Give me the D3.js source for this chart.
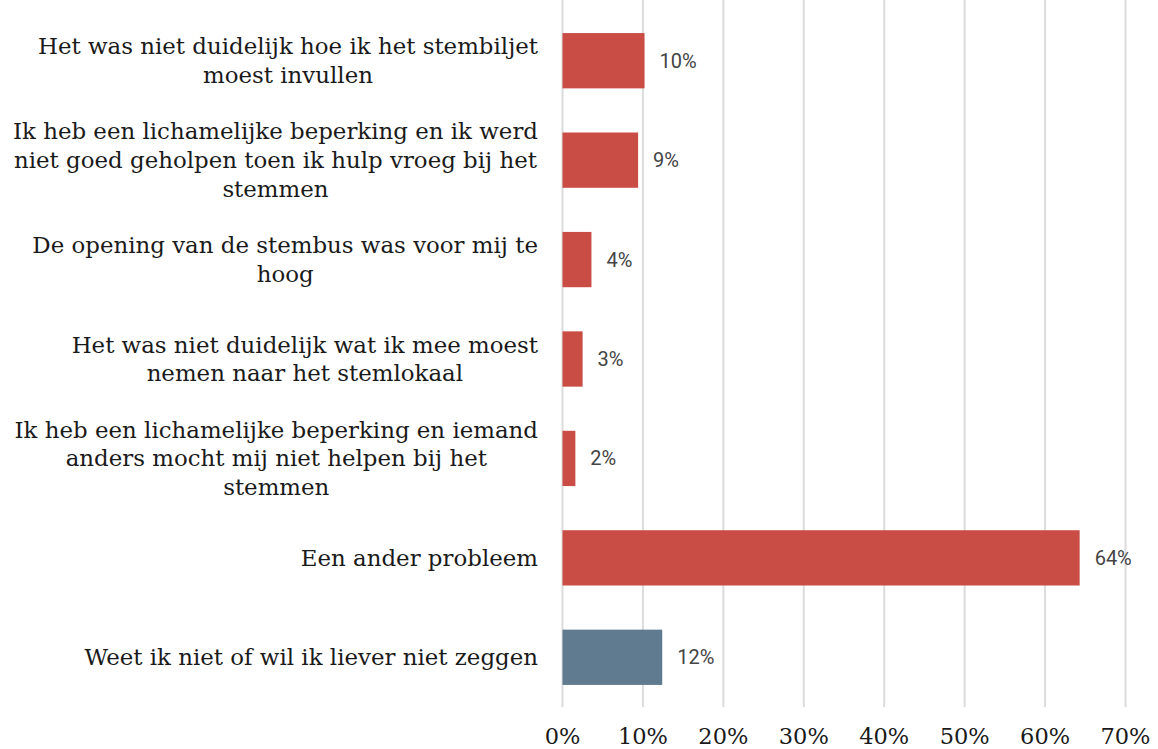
<!DOCTYPE html>
<html>
<head>
<meta charset="utf-8">
<script src="https://cdn.jsdelivr.net/npm/d3@7"></script>
<style>
  html, body { margin: 0; padding: 0; background: #fff; }
  svg { display: block; }
</style>
</head>
<body>
<svg id="chart" width="1158" height="749"></svg>
<script>
const categories = [
  ["Het was niet duidelijk hoe ik het stembiljet", "moest invullen"],
  ["Ik heb een lichamelijke beperking en ik werd", "niet goed geholpen toen ik hulp vroeg bij het", "stemmen"],
  ["De opening van de stembus was voor mij te", "hoog"],
  ["Het was niet duidelijk wat ik mee moest", "nemen naar het stemlokaal"],
  ["Ik heb een lichamelijke beperking en iemand", "anders mocht mij niet helpen bij het", "stemmen"],
  ["Een ander probleem"],
  ["Weet ik niet of wil ik liever niet zeggen"]
];
const values = [10.2, 9.4, 3.6, 2.5, 1.6, 64.3, 12.4];
const valueLabels = ["10%", "9%", "4%", "3%", "2%", "64%", "12%"];
const barColors = ["#c94d45", "#c94d45", "#c94d45", "#c94d45", "#c94d45", "#c94d45", "#607b8f"];
const xTicks = [0, 10, 20, 30, 40, 50, 60, 70];
const xTickLabels = ["0%", "10%", "20%", "30%", "40%", "50%", "60%", "70%"];

const svg = d3.select("#chart");
const x = d3.scaleLinear().domain([0, 70]).range([562.5, 1125.5]);
const y = d3.scaleBand().domain(d3.range(categories.length)).range([11, 707]).paddingInner(0.444).paddingOuter(0.222);

// gridlines
svg.append("g").selectAll("line").data(xTicks).join("line")
  .attr("x1", d => x(d)).attr("x2", d => x(d))
  .attr("y1", 0).attr("y2", 707)
  .attr("stroke", "#dcdcdc").attr("stroke-width", 2);

// bars
svg.append("g").selectAll("rect").data(values).join("rect")
  .attr("x", x(0))
  .attr("y", (d, i) => y(i))
  .attr("width", d => x(d) - x(0))
  .attr("height", y.bandwidth())
  .attr("fill", (d, i) => barColors[i]);

// value labels
svg.append("g").selectAll("text").data(values).join("text")
  .attr("x", d => x(d) + 15)
  .attr("y", (d, i) => y(i) + y.bandwidth() / 2)
  .attr("dy", "0.35em")
  .attr("font-family", "Roboto, sans-serif")
  .attr("font-size", 20)
  .attr("fill", "#444")
  .text((d, i) => valueLabels[i]);

// category labels: lines centered within block, block right-aligned at 538
const labelRight = 538;
const lineH = 28.7;
const labelFont = "'DejaVu Serif', serif";
const labelSize = 22.9;
const gLab = svg.append("g");
categories.forEach((lines, i) => {
  const cy = y(i) + y.bandwidth() / 2;
  const g = gLab.append("g");
  const texts = lines.map((ln, j) => g.append("text")
    .attr("font-family", labelFont)
    .attr("font-size", labelSize)
    .attr("fill", "#1a1a1a")
    .attr("y", cy + (j - (lines.length - 1) / 2) * lineH)
    .attr("dy", "0.35em")
    .attr("text-anchor", "middle")
    .text(ln));
  const maxW = d3.max(texts, t => t.node().getComputedTextLength());
  texts.forEach(t => t.attr("x", labelRight - maxW / 2));
});

// x axis tick labels
svg.append("g").selectAll("text").data(xTicks).join("text")
  .attr("x", d => x(d))
  .attr("y", 744)
  .attr("text-anchor", "middle")
  .attr("font-family", labelFont)
  .attr("font-size", 22.5)
  .attr("fill", "#1a1a1a")
  .text((d, i) => xTickLabels[i]);
</script>
</body>
</html>
